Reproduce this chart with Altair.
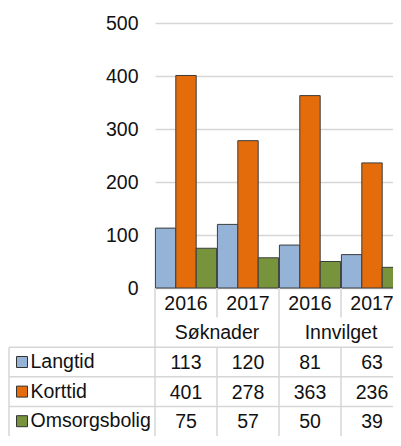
import altair as alt
import pandas as pd

# ---- data ----
series = ["Langtid", "Korttid", "Omsorgsbolig"]
groups = ["Søknader", "Søknader", "Innvilget", "Innvilget"]
years = ["2016", "2017", "2016", "2017"]
langtid = [113, 120, 81, 63]
korttid = [401, 278, 363, 236]
omsorgsbolig = [75, 57, 50, 39]
y_ticks = [0, 100, 200, 300, 400, 500]

# ---- styles ----
colors = ["#95B3D7", "#E46C0A", "#77933C"]
FONT = "Liberation Sans"
FS = 19.5
TXT = "#111111"
LINE = "#d6d6d6"
W = 248
H_TOP = 265
H_BOT = 148
LEFT = -146  # left edge of the table's label column (layout)

cols = [f"{g} {y}" for g, y in zip(groups, years)]
values = {"Langtid": langtid, "Korttid": korttid, "Omsorgsbolig": omsorgsbolig}
rows = ["år", "gruppe"] + series

bars = pd.DataFrame(
    [{"col": c, "series": s, "value": values[s][i]} for s in series for i, c in enumerate(cols)]
)

x_scale = alt.Scale(domain=cols, paddingInner=0, paddingOuter=0)
color_scale = alt.Scale(domain=series, range=colors)

top = alt.Chart(bars).mark_bar(stroke="#3c3c3c", strokeWidth=1).encode(
    x=alt.X("col:N", sort=cols, scale=x_scale, axis=None),
    xOffset=alt.XOffset("series:N", sort=series,
                        scale=alt.Scale(domain=series, paddingInner=0, paddingOuter=0.02)),
    y=alt.Y("value:Q", scale=alt.Scale(domain=[0, 500]),
            axis=alt.Axis(values=y_ticks, title=None, ticks=False, domain=False,
                          labelPadding=17, labelFontSize=FS, labelColor=TXT, labelFont=FONT,
                          gridColor=LINE, gridWidth=1.5)),
    color=alt.Color("series:N", scale=color_scale, legend=None),
).properties(width=W, height=H_TOP)

# ---- data table below ----
y_scale = alt.Scale(type="band", domain=rows, paddingInner=0, paddingOuter=0)
y_axis = alt.Axis(title=None, labelExpr="datum.value == 'år' || datum.value == 'gruppe' ? '' : datum.value",
                  labelAlign="left", labelPadding=-LEFT - 21, ticks=False, tickSize=0, domain=False,
                  grid=False, labelFontSize=FS, labelColor=TXT, labelFont=FONT)

year_df = pd.DataFrame({"col": cols, "row": "år", "label": years})
group_df = pd.DataFrame({"col": [cols[0], cols[2]], "row": "gruppe", "label": [groups[0], groups[2]]})
cell_df = pd.DataFrame(
    [{"col": c, "row": s, "label": str(values[s][i])} for s in series for i, c in enumerate(cols)]
)


def text_layer(df, band=0.5):
    return alt.Chart(df).mark_text(font=FONT, fontSize=FS, color=TXT, dy=1).encode(
        x=alt.X("col:N", sort=cols, scale=x_scale, bandPosition=band, axis=None),
        y=alt.Y("row:N", scale=y_scale, axis=y_axis),
        text="label:N",
    )


v_df = pd.DataFrame({
    "col": [cols[0], cols[1], cols[1], cols[2], cols[3], cols[3]],
    "r0": ["år", "år", "Langtid", "år", "år", "Langtid"],
    "r1": ["Omsorgsbolig", "år", "Omsorgsbolig", "Omsorgsbolig", "år", "Omsorgsbolig"],
})
v_rules = alt.Chart(v_df).mark_rule(color=LINE, strokeWidth=1.5).encode(
    x=alt.X("col:N", sort=cols, scale=x_scale, bandPosition=0, axis=None),
    y=alt.Y("r0:N", scale=y_scale, bandPosition=0, axis=y_axis),
    y2=alt.Y2("r1:N", bandPosition=1),
)
left_rule = alt.Chart(pd.DataFrame({"r0": [series[0]], "r1": [series[-1]]})).mark_rule(
    color=LINE, strokeWidth=1.5).encode(
    x=alt.value(LEFT),
    y=alt.Y("r0:N", scale=y_scale, bandPosition=0, axis=y_axis),
    y2=alt.Y2("r1:N", bandPosition=1),
)
h_rules = alt.Chart(pd.DataFrame({"row": series})).mark_rule(color=LINE, strokeWidth=1.5).encode(
    y=alt.Y("row:N", scale=y_scale, bandPosition=0, axis=y_axis),
    x=alt.value(LEFT),
    x2=alt.value(W),
)
squares = alt.Chart(pd.DataFrame({"row": series})).mark_square(
    size=121, opacity=1, stroke="#333333", strokeWidth=1).encode(
    x=alt.value(LEFT + 13),
    y=alt.Y("row:N", scale=y_scale, axis=y_axis),
    color=alt.Color("row:N", scale=color_scale, legend=None),
)

bottom = alt.layer(
    v_rules, left_rule, h_rules, squares,
    text_layer(year_df), text_layer(group_df, band=1), text_layer(cell_df),
).properties(width=W, height=H_BOT)

# the reference is cropped at its right edge: let the svg clip the last few pixels
chart = alt.vconcat(top, bottom, spacing=0, bounds="flush").resolve_scale(
    y="independent", x="shared", color="shared"
).properties(
    padding={"top": 5, "left": 0, "right": -11, "bottom": 0}, background="white"
).configure(font=FONT).configure_view(stroke=None)

chart.save("out.html", embed_options={"renderer": "svg", "actions": False})
